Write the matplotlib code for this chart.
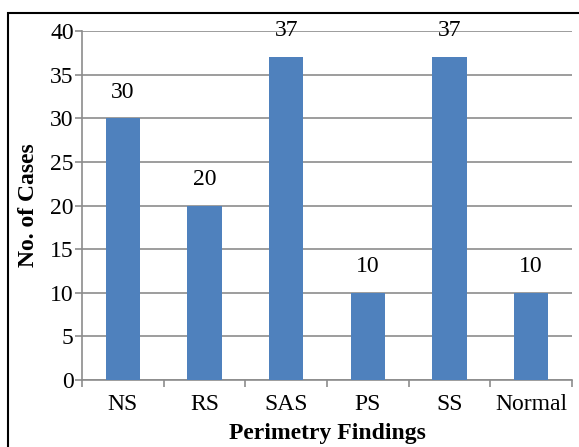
import matplotlib.pyplot as plt
from matplotlib.patches import Rectangle

plt.rcParams['font.family'] = ['Liberation Serif', 'DejaVu Serif']

# data
categories = ['NS', 'RS', 'SAS', 'PS', 'SS', 'Normal']
cases = [30, 20, 37, 10, 37, 10]

W, H = 579, 447
fig = plt.figure(figsize=(W / 100, H / 100), dpi=100)
ax = fig.add_axes([82 / W, 1 - 380 / H, (572 - 82) / W, (380 - 31) / H])

x = range(len(categories))
bars = ax.bar(x, cases, width=0.42, color='#4f81bd', zorder=3)
for b, v in zip(bars, cases):
    ax.text(b.get_x() + b.get_width() / 2, v + 1.8, str(v),
            ha='center', va='bottom', fontsize=17)

ax.set_xlim(-0.5, len(categories) - 0.5)
ax.set_ylim(0, 40)
ax.set_yticks(range(0, 41, 5))
ax.yaxis.grid(True, color='#8c8c8c', linewidth=1.2, zorder=0)

ax.set_xticks(x)
ax.set_xticklabels(categories, fontsize=17)
ax.set_xticks([i - 0.5 for i in range(len(categories) + 1)], minor=True)
ax.tick_params(axis='x', which='major', length=0, pad=10)
ax.tick_params(axis='x', which='minor', length=5, color='#8c8c8c', width=1.2)
ax.tick_params(axis='y', length=5, color='#8c8c8c', width=1.2, labelsize=17, pad=1)

for s in ['top', 'right']:
    ax.spines[s].set_visible(False)
for s in ['left', 'bottom']:
    ax.spines[s].set_color('#8c8c8c')
    ax.spines[s].set_linewidth(1.2)

ax.set_ylabel('No. of Cases', fontsize=17, fontweight='bold', labelpad=8)
ax.set_xlabel('Perimetry Findings', fontsize=17, fontweight='bold', labelpad=6)

# outer frame
fig.patches.append(Rectangle((8 / W, -0.05), 1, 1 - 13 / H + 0.05,
                             transform=fig.transFigure, fill=False,
                             edgecolor='black', linewidth=1.5))

fig.savefig('out.png', dpi=100)
